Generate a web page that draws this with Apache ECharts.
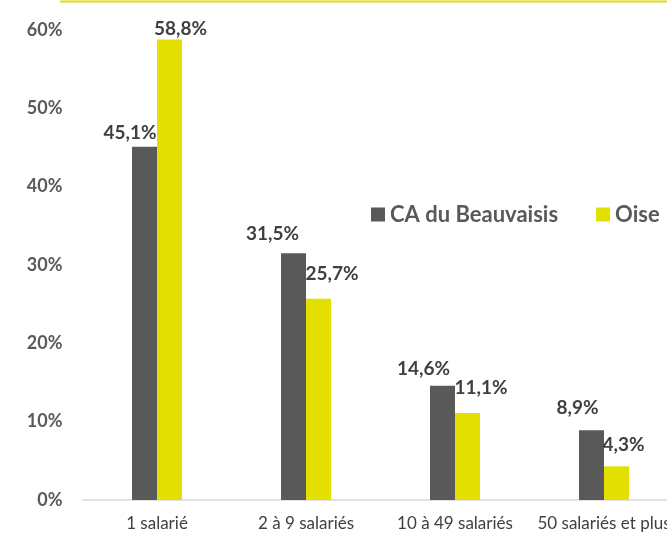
<!DOCTYPE html>
<html lang="fr">
<head>
    <meta charset="UTF-8">
    <title>Entreprises par taille</title>
    <script src="https://cdn.jsdelivr.net/npm/echarts@6/dist/echarts.min.js"></script>
    <style>
        html, body { margin: 0; padding: 0; background: #fff; }
    </style>
</head>
<body>
<div id="main" style="width: 667px;height:534px;"></div>
<script type="text/javascript">
    var categories = ['1 salarié', '2 à 9 salariés', '10 à 49 salariés', '50 salariés et plus'];
    var beauvaisis = [45.1, 31.5, 14.6, 8.9];
    var oise = [58.8, 25.7, 11.1, 4.3];
    var yTicks = [0, 10, 20, 30, 40, 50, 60];

    // decalage des etiquettes (comme Excel les a placees)
    var offsetsBeauvaisis = [[-14.5, -4], [-21, -10], [-19, -7], [-14, -12.5]];
    var offsetsOise = [[11, -1], [13.5, -15], [13.5, -16], [7, -12]];

    var font = 'Lato, "Open Sans", sans-serif';

    function pct(v) {
        return v.toFixed(1).replace('.', ',') + '%';
    }

    function withOffsets(values, offsets) {
        return values.map(function (v, i) {
            return { value: v, label: { offset: offsets[i] } };
        });
    }

    var myChart = echarts.init(document.getElementById('main'));

    var labelStyle = {
        show: true,
        position: 'top',
        distance: 0,
        fontFamily: font,
        fontWeight: 'bold',
        fontSize: 19,
        color: '#404040',
        formatter: function (p) { return pct(p.value); }
    };

    option = {
        animation: false,
        textStyle: { fontFamily: font },
        graphic: [{
            type: 'line',
            shape: { x1: 60, y1: 1.5, x2: 667, y2: 1.5 },
            style: { stroke: '#e3dd00', lineWidth: 2 }
        }],
        legend: {
            data: ['CA du Beauvaisis', 'Oise'],
            left: 371,
            top: 203.5,
            padding: 0,
            icon: 'rect',
            itemWidth: 14,
            itemHeight: 14,
            itemGap: 38,
            textStyle: {
                fontFamily: font,
                fontWeight: 'bold',
                fontSize: 22,
                color: '#595959'
            }
        },
        grid: {
            left: 82.5,
            right: -11.5,
            top: 30,
            bottom: 34,
            outerBoundsMode: 'none',
            containLabel: false
        },
        xAxis: {
            type: 'category',
            data: categories,
            axisTick: { show: false },
            axisLine: { lineStyle: { color: '#d9d9d9', width: 1.5 } },
            axisLabel: {
                interval: 0,
                hideOverlap: false,
                margin: 15,
                fontFamily: font,
                fontSize: 17,
                color: '#404040'
            }
        },
        yAxis: {
            type: 'value',
            min: yTicks[0],
            max: yTicks[yTicks.length - 1],
            interval: 10,
            splitLine: { show: false },
            axisLine: { show: false },
            axisTick: { show: false },
            axisLabel: {
                margin: 20,
                fontFamily: font,
                fontWeight: 'bold',
                fontSize: 18,
                color: '#595959',
                formatter: '{value}%'
            }
        },
        series: [{
            name: 'CA du Beauvaisis',
            type: 'bar',
            data: withOffsets(beauvaisis, offsetsBeauvaisis),
            barWidth: 25,
            barGap: '0%',
            itemStyle: { color: '#595959' },
            label: labelStyle
        }, {
            name: 'Oise',
            type: 'bar',
            data: withOffsets(oise, offsetsOise),
            barWidth: 25,
            itemStyle: { color: '#e3df00' },
            label: labelStyle
        }]
    };

    myChart.setOption(option);
</script>
</body>
</html>
